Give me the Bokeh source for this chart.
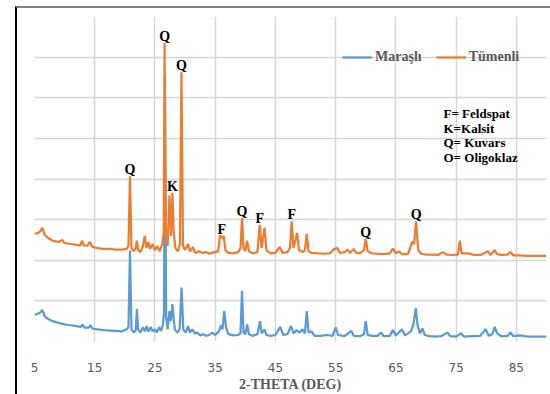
from bokeh.plotting import figure
from bokeh.models import FixedTicker, Label, ColumnDataSource
from bokeh.layouts import column
from bokeh.core.properties import value
from bokeh.embed import file_html
from bokeh.resources import INLINE

# ---------------- data ----------------
marasli_x = [5.0, 5.5, 6.0, 6.3, 6.7, 7.2, 8.0, 9.0, 10.0, 11.0, 12.0, 12.7, 13.0, 13.3, 14.0, 14.3, 14.6,
             15.5, 16.5, 17.5, 18.5, 19.5, 20.3, 20.6, 20.85, 21.1, 21.5, 21.8, 22.0, 22.2, 22.6, 23.0, 23.3,
             23.6, 23.9, 24.3, 24.6, 25.0, 25.3, 25.7, 26.0, 26.3, 26.5, 26.65, 26.85, 27.1, 27.4, 27.6, 27.9,
             28.1, 28.3, 28.7, 29.1, 29.42, 29.7, 30.1, 30.5, 30.8, 31.2, 31.6, 32.0, 32.5, 33.0, 33.5, 34.0,
             34.5, 35.0, 35.6, 36.0, 36.2, 36.5, 36.8, 37.2, 38.0, 38.8, 39.2, 39.45, 39.7, 40.0, 40.3, 40.6,
             41.2, 42.0, 42.45, 42.7, 43.2, 43.5, 44.2, 45.0, 45.8, 46.3, 47.0, 47.6, 48.0, 48.5, 49.0, 49.5,
             49.9, 50.2, 50.5, 51.0, 51.5, 52.5, 53.5, 54.5, 55.0, 55.4, 56.5, 57.6, 58.0, 59.0, 59.7, 60.0,
             60.3, 61.0, 62.0, 62.5, 63.0, 64.0, 64.5, 65.0, 66.0, 66.5, 67.5, 67.9, 68.3, 68.6, 69.0, 69.4,
             69.8, 70.5, 71.5, 72.5, 73.6, 74.0, 75.0, 75.8, 76.3, 77.5, 79.0, 79.9, 80.4, 81.0, 81.4, 81.8,
             82.5, 83.5, 84.0, 84.5, 85.5, 87.0, 88.5, 90.0]
marasli_y = [0.66, 0.68, 0.72, 0.78, 0.62, 0.56, 0.50, 0.46, 0.42, 0.40, 0.38, 0.36, 0.42, 0.34, 0.34, 0.40, 0.32,
             0.30, 0.28, 0.27, 0.26, 0.25, 0.30, 0.35, 2.24, 0.30, 0.22, 0.28, 0.80, 0.30, 0.22, 0.35, 0.25,
             0.38, 0.24, 0.36, 0.25, 0.30, 0.22, 0.35, 0.26, 0.40, 0.70, 6.55, 0.60, 0.30, 0.75, 0.50, 0.92,
             0.55, 0.30, 0.22, 0.30, 1.33, 0.30, 0.22, 0.38, 0.22, 0.30, 0.20, 0.22, 0.15, 0.18, 0.14, 0.16,
             0.22, 0.16, 0.25, 0.40, 0.30, 0.75, 0.35, 0.18, 0.15, 0.16, 0.20, 1.25, 0.22, 0.18, 0.42, 0.18,
             0.14, 0.18, 0.50, 0.20, 0.30, 0.16, 0.14, 0.16, 0.36, 0.16, 0.18, 0.38, 0.20, 0.28, 0.22, 0.30,
             0.20, 0.75, 0.22, 0.25, 0.14, 0.14, 0.16, 0.14, 0.35, 0.16, 0.13, 0.26, 0.14, 0.13, 0.18, 0.50,
             0.16, 0.14, 0.14, 0.22, 0.13, 0.14, 0.28, 0.15, 0.30, 0.15, 0.25, 0.42, 0.82, 0.40, 0.20, 0.32,
             0.16, 0.13, 0.12, 0.13, 0.22, 0.13, 0.12, 0.20, 0.12, 0.13, 0.14, 0.30, 0.14, 0.18, 0.36, 0.20,
             0.13, 0.13, 0.22, 0.13, 0.15, 0.12, 0.12, 0.12]

tumenli_x = [5.0, 5.5, 6.0, 6.3, 6.7, 7.2, 8.0, 9.0, 9.6, 10.0, 11.0, 12.0, 12.6, 12.9, 13.2, 13.8, 14.2, 14.6,
             15.5, 16.5, 17.5, 18.5, 19.5, 20.3, 20.6, 20.85, 21.1, 21.5, 21.8, 22.0, 22.2, 22.6, 23.0, 23.3,
             23.6, 23.9, 24.2, 24.6, 25.0, 25.4, 25.8, 26.2, 26.45, 26.6, 26.8, 27.1, 27.4, 27.65, 27.9, 28.1,
             28.4, 28.8, 29.15, 29.4, 29.65, 30.0, 30.5, 30.8, 31.3, 31.7, 32.3, 33.0, 33.5, 34.0, 34.5, 35.0,
             35.5, 35.8, 36.1, 36.4, 36.7, 37.2, 38.0, 38.8, 39.2, 39.45, 39.7, 40.0, 40.3, 40.6, 41.2, 42.0,
             42.4, 42.7, 43.2, 43.5, 44.2, 45.0, 45.7, 46.2, 47.0, 47.4, 47.7, 48.0, 48.6, 48.9, 49.5, 49.9,
             50.2, 50.5, 51.0, 52.0, 53.0, 54.0, 54.8, 55.3, 55.7, 56.5, 57.0, 57.4, 58.0, 58.4, 59.0, 59.7,
             60.0, 60.3, 61.0, 62.0, 63.0, 64.0, 64.5, 65.0, 65.5, 66.0, 67.0, 67.7, 68.0, 68.35, 68.7, 69.2,
             70.0, 71.0, 72.0, 72.8, 73.4, 74.5, 75.3, 75.6, 75.9, 77.0, 78.0, 79.0, 80.3, 80.7, 81.4, 81.8,
             82.5, 83.5, 84.0, 84.5, 85.5, 87.0, 88.5, 90.0]
tumenli_y = [2.66, 2.66, 2.72, 2.80, 2.62, 2.56, 2.48, 2.45, 2.50, 2.42, 2.40, 2.38, 2.36, 2.48, 2.36, 2.36, 2.45, 2.33,
             2.30, 2.28, 2.28, 2.26, 2.26, 2.28, 2.35, 4.07, 2.30, 2.22, 2.30, 2.48, 2.25, 2.20, 2.35, 2.60,
             2.30, 2.45, 2.28, 2.40, 2.25, 2.35, 2.22, 2.40, 2.70, 7.35, 2.60, 2.35, 3.60, 2.60, 3.66, 2.70,
             2.30, 2.22, 2.40, 6.63, 2.35, 2.25, 2.40, 2.22, 2.32, 2.18, 2.22, 2.18, 2.20, 2.16, 2.18, 2.20,
             2.22, 2.62, 2.55, 2.60, 2.25, 2.18, 2.17, 2.20, 2.30, 3.04, 2.30, 2.22, 2.48, 2.22, 2.17, 2.20,
             2.87, 2.30, 2.80, 2.25, 2.17, 2.18, 2.33, 2.18, 2.20, 2.30, 2.96, 2.30, 2.67, 2.25, 2.20, 2.25,
             2.65, 2.22, 2.18, 2.17, 2.16, 2.17, 2.28, 2.30, 2.18, 2.20, 2.26, 2.18, 2.28, 2.18, 2.17, 2.25,
             2.53, 2.22, 2.17, 2.16, 2.15, 2.17, 2.29, 2.17, 2.22, 2.15, 2.15, 2.45, 2.40, 2.96, 2.25, 2.16,
             2.14, 2.14, 2.13, 2.20, 2.14, 2.13, 2.14, 2.48, 2.17, 2.17, 2.13, 2.13, 2.22, 2.13, 2.25, 2.15,
             2.13, 2.14, 2.20, 2.12, 2.12, 2.11, 2.11, 2.11]

peak_labels = ["Q", "Q", "Q", "K", "F", "Q", "F", "F", "Q", "Q"]
peak_pos = [26.6, 29.4, 20.85, 27.9, 36.1, 39.45, 42.4, 47.7, 60.0, 68.35]

key_lines = ["F= Feldspat", "K=Kalsit", "Q= Kuvars", "O= Oligoklaz"]
x_ticks = [5, 15, 25, 35, 45, 55, 65, 75, 85]
y_grid = [0, 1, 2, 3, 4, 5, 6, 7, 8]

BLUE = "#5b9bd5"
ORANGE = "#ed7d31"
GRAY = "#595959"
SERIF = "Liberation Serif"

# ---------------- figure ----------------
p = figure(width=533, height=386, x_range=(5, 90), y_range=(0, 8),
           output_backend="svg", toolbar_location=None,
           min_border_left=17, min_border_right=4, min_border_top=8, min_border_bottom=46)
p.outline_line_color = None
p.background_fill_color = "white"
p.border_fill_color = "white"

p.xgrid.ticker = FixedTicker(ticks=x_ticks)
p.ygrid.ticker = FixedTicker(ticks=y_grid)
for g in (p.xgrid, p.ygrid):
    g.grid_line_color = "#d6d6d6"
    g.grid_line_width = 1.5

p.yaxis.visible = False
ax = p.xaxis[0]
ax.ticker = FixedTicker(ticks=x_ticks)
ax.axis_line_color = None
ax.major_tick_line_color = None
ax.minor_tick_line_color = None
ax.major_label_standoff = 15
ax.major_label_text_font = "DejaVu Sans"
ax.major_label_text_font_size = "12px"
ax.major_label_text_color = GRAY
ax.axis_label = "2-THETA (DEG)"
ax.axis_label_standoff = 2
ax.axis_label_text_font = SERIF
ax.axis_label_text_font_style = "bold"
ax.axis_label_text_font_size = "14px"
ax.axis_label_text_color = GRAY

p.line(marasli_x, marasli_y, color=BLUE, line_width=2.25, legend_label="Maraşlı")
p.line(tumenli_x, tumenli_y, color=ORANGE, line_width=2.25, legend_label="Tümenli")

# peak labels placed on top of the Tümenli peaks
lab_y = []
for px in peak_pos:
    best = max(y for x, y in zip(tumenli_x, tumenli_y) if abs(x - px) <= 0.3)
    lab_y.append(best)
src = ColumnDataSource(dict(x=peak_pos, y=lab_y, t=peak_labels))
p.text(x="x", y="y", text="t", source=src, text_font=value(SERIF), text_font_style="bold",
       text_font_size="14px", text_color="black", text_align="center", text_baseline="bottom",
       y_offset=1)

# key text
for i, s in enumerate(key_lines):
    p.add_layout(Label(x=72.9, y=5.61 - 0.36 * i, text=s, text_font=SERIF, text_font_style="bold",
                       text_font_size="13px", text_color="black", text_baseline="middle"))

lg = p.legend[0]
lg.location = (308, 274)
lg.orientation = "horizontal"
lg.border_line_color = None
lg.background_fill_alpha = 0
lg.padding = 0
lg.margin = 0
lg.spacing = 14
lg.glyph_width = 30
lg.label_standoff = 3
lg.label_text_font = SERIF
lg.label_text_font_style = "bold"
lg.label_text_font_size = "14px"
lg.label_text_color = GRAY

# picture frame: black left edge, gray top edge
layout = column(p, margin=(6, 0, 0, 15),
                styles={"border-left": "2px solid #000000", "border-top": "2px solid #808080"})

open("out.html", "w").write(file_html(layout, INLINE))
